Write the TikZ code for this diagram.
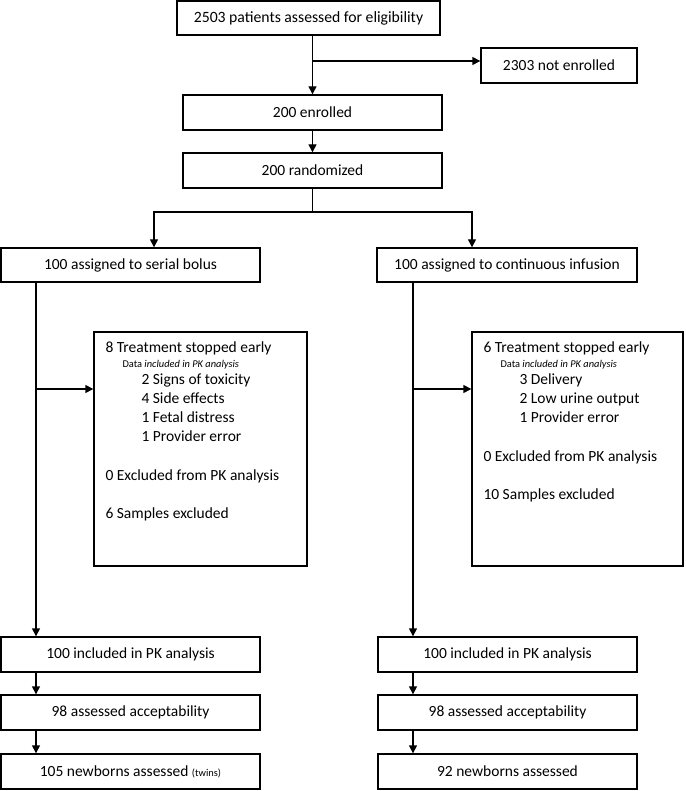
\documentclass[tikz,border=0pt]{standalone}
\usepackage{fontspec}
\setmainfont{Carlito}
\usetikzlibrary{arrows.meta,calc}
\tikzset{%
flowbox/.style={draw, line width=1.4pt, minimum width=259pt, minimum height=35pt, inner sep=0pt, font=\fontsize{15.5}{19}\selectfont},
notebox/.style={draw, line width=1.4pt, minimum width=213pt, minimum height=234pt, inner sep=0pt},
notetext/.style={anchor=north west, align=left, inner sep=0pt, font=\fontsize{15.5}{19}\selectfont},
pt/.style={draw, line width=1.4pt, -{Triangle[length=8pt,width=8pt]}},
ln/.style={draw, line width=1.4pt}
}
\newcommand{\smallnote}[1]{{\fontsize{10.4}{12}\selectfont #1}}

\begin{document}
\begin{tikzpicture}[x=1pt, y=-1pt]
		\useasboundingbox (0,0) rectangle (685,791);
		% screening
		\node[flowbox, minimum width=263pt, minimum height=34pt, font=\fontsize{15.7}{19}\selectfont] (assessed) at (308.5,18) {2503 patients assessed for eligibility};
		\node[flowbox, minimum width=156pt] (notenrolled) at (559,65.5) {2303 not enrolled};
		\node[flowbox] (enrolled) at (312.5,112.5) {200 enrolled};
		\node[flowbox] (randomized) at (312.5,170.5) {200 randomized};
		% arms
		\node[flowbox, minimum height=34pt] (bolus) at (130.5,265) {100 assigned to serial bolus};
		\node[flowbox, minimum width=260pt, minimum height=34pt] (infusion) at (507,265) {100 assigned to continuous infusion};
		\node[notebox] (stopbolus) at (200.5,449) {};
		\node[notebox, minimum width=211pt] (stopinfusion) at (577.5,449) {};
		\node[notetext] (notesbolus) at ($(stopbolus.north west)+(12,10)$) {8 Treatment stopped early\\[-4pt]
			\hspace*{17pt}\smallnote{Data \textit{included in PK analysis}}\\[-2pt]
			\hspace*{36pt}2 Signs of toxicity\\
			\hspace*{36pt}4 Side effects\\
			\hspace*{36pt}1 Fetal distress\\
			\hspace*{36pt}1 Provider error\\[20pt]
			0 Excluded from PK analysis\\[19pt]
			6 Samples excluded};
		\node[notetext] (notesinfusion) at ($(stopinfusion.north west)+(12,10)$) {6 Treatment stopped early\\[-4pt]
			\hspace*{17pt}\smallnote{Data \textit{included in PK analysis}}\\[-2pt]
			\hspace*{36pt}3 Delivery\\
			\hspace*{36pt}2 Low urine output\\
			\hspace*{36pt}1 Provider error\\[20pt]
			0 Excluded from PK analysis\\[19pt]
			10 Samples excluded};
		% analysis
		\node[flowbox] (pkbolus) at (130.5,654.5) {100 included in PK analysis};
		\node[flowbox] (accbolus) at (130.5,712.5) {98 assessed acceptability};
		\node[flowbox] (newbolus) at (130.5,771.5) {105 newborns assessed \smallnote{(twins)}};
		\node[flowbox] (pkinfusion) at (507.5,654.5) {100 included in PK analysis};
		\node[flowbox] (accinfusion) at (507.5,712.5) {98 assessed acceptability};
		\node[flowbox] (newinfusion) at (507.5,771.5) {92 newborns assessed};

		\coordinate (split1) at (312.5,61);
		\coordinate (split2) at (312.5,212);
		\coordinate (armbolus) at (154,212);
		\coordinate (arminfusion) at (472,212);
		\coordinate (trunkbolus) at (36,389);
		\coordinate (trunkinfusion) at (413,389);

		\draw[pt] (assessed.south -| enrolled.north) -- (enrolled.north);
		\draw[pt] (split1) -- (split1 -| notenrolled.west);
		\draw[pt] (enrolled) -- (randomized);
		\draw[ln] (randomized) -- (split2);
		\draw[pt] (split2) -- (armbolus) -- (armbolus |- bolus.north);
		\draw[pt] (split2) -- (arminfusion) -- (arminfusion |- infusion.north);

		\draw[pt] (trunkbolus |- bolus.south) -- (trunkbolus |- pkbolus.north);
		\draw[pt] (trunkbolus) -- (trunkbolus -| stopbolus.west);
		\draw[pt] (trunkbolus |- pkbolus.south) -- (trunkbolus |- accbolus.north);
		\draw[pt] (trunkbolus |- accbolus.south) -- (trunkbolus |- newbolus.north);

		\draw[pt] (trunkinfusion |- infusion.south) -- (trunkinfusion |- pkinfusion.north);
		\draw[pt] (trunkinfusion) -- (trunkinfusion -| stopinfusion.west);
		\draw[pt] (trunkinfusion |- pkinfusion.south) -- (trunkinfusion |- accinfusion.north);
		\draw[pt] (trunkinfusion |- accinfusion.south) -- (trunkinfusion |- newinfusion.north);
	\end{tikzpicture}
\end{document}
